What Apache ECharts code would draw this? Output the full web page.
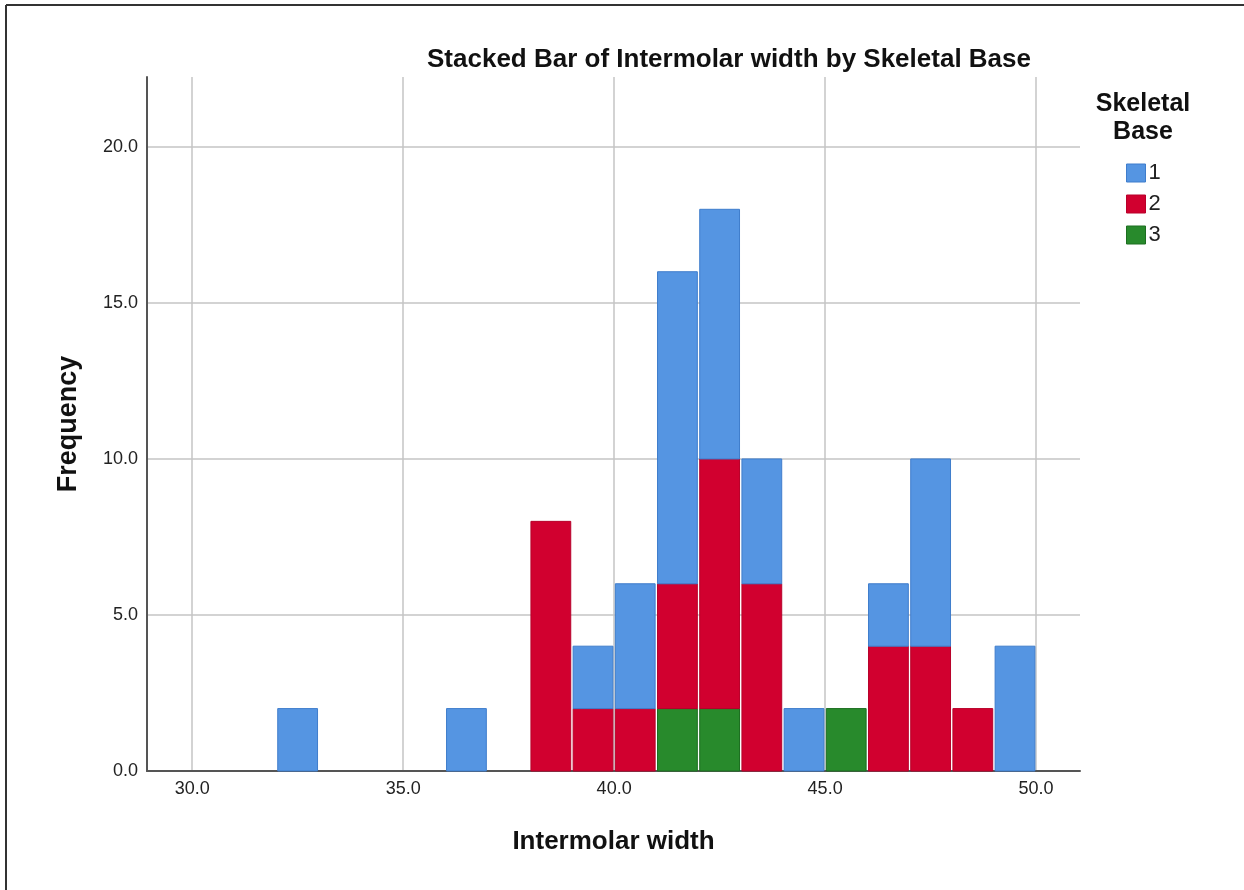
<!DOCTYPE html>
<html>
<head>
    <meta charset="UTF-8">
    <script src="https://cdn.jsdelivr.net/npm/echarts@6/dist/echarts.min.js"></script>
    <title>Stacked Bar of Intermolar width by Skeletal Base</title>
    <style>
        body { margin: 0; background: #fff; }
    </style>
</head>
<body>
    <div id="main" style="width:1244px;height:890px;"></div>
    <script type="text/javascript">
        // bin centres (1 mm bins, 32-50)
        var binCentres = [32.5, 33.5, 34.5, 35.5, 36.5, 37.5, 38.5, 39.5, 40.5,
                          41.5, 42.5, 43.5, 44.5, 45.5, 46.5, 47.5, 48.5, 49.5];
        // frequencies per skeletal base
        var base1 = [2, 0, 0, 0, 2, 0, 0, 2, 4, 10, 8, 4, 2, 0, 2, 6, 0, 4];
        var base2 = [0, 0, 0, 0, 0, 0, 8, 2, 2, 4, 8, 6, 0, 0, 4, 4, 2, 0];
        var base3 = [0, 0, 0, 0, 0, 0, 0, 0, 0, 2, 2, 0, 0, 2, 0, 0, 0, 0];
        var xTicks = [30, 35, 40, 45, 50];
        var yTicks = [0, 5, 10, 15, 20];

        var colors = { '1': '#5595e2', '2': '#d1002f', '3': '#288a2c' };
        var borders = { '1': '#3f7dcc', '2': '#b8002a', '3': '#1c6e20' };
        var FONT = 'Liberation Sans, Arial, sans-serif';

        // stack order from the bottom: 3, 2, 1
        var stackOrder = [['3', base3], ['2', base2], ['1', base1]];
        var running = binCentres.map(function () { return 0; });

        function renderBin(params, api) {
            var x = api.value(0), y0 = api.value(1), y1 = api.value(2);
            var p0 = api.coord([x - 0.5, y1]);
            var p1 = api.coord([x + 0.5, y0]);
            var inset = 1.2;
            return {
                type: 'rect',
                shape: { x: p0[0] + inset, y: p0[1], width: p1[0] - p0[0] - 2 * inset, height: p1[1] - p0[1] },
                style: api.style({ stroke: borders[params.seriesName], lineWidth: 1 })
            };
        }

        var series = stackOrder.map(function (s) {
            var name = s[0], vals = s[1], data = [];
            vals.forEach(function (v, i) {
                if (v > 0) {
                    data.push([binCentres[i], running[i], running[i] + v]);
                    running[i] += v;
                }
            });
            return {
                name: name,
                type: 'custom',
                renderItem: renderBin,
                encode: { x: 0, y: [1, 2] },
                itemStyle: { color: colors[name] },
                data: data
            };
        });

        var myChart = echarts.init(document.getElementById('main'));
        var fmt = function (v) { return Number(v).toFixed(1); };

        var option = {
            animation: false,
            color: [colors['1'], colors['2'], colors['3']],
            textStyle: { fontFamily: FONT },
            title: {
                text: 'Stacked Bar of Intermolar width by Skeletal Base',
                left: 422,
                top: 42,
                textStyle: { fontSize: 26, fontWeight: 'bold', color: '#111', fontFamily: FONT }
            },
            legend: {
                data: [
                    { name: '1', itemStyle: { color: colors['1'], borderColor: borders['1'], borderWidth: 1 } },
                    { name: '2', itemStyle: { color: colors['2'], borderColor: borders['2'], borderWidth: 1 } },
                    { name: '3', itemStyle: { color: colors['3'], borderColor: borders['3'], borderWidth: 1 } }
                ],
                orient: 'vertical',
                left: 1121,
                top: 157,
                itemWidth: 19,
                itemHeight: 18,
                itemGap: 9,
                icon: 'rect',
                textStyle: { fontSize: 22, color: '#222', padding: [0, 0, 0, -2] }
            },
            grid: { left: 147, top: 77, right: 164, bottom: 119 },
            xAxis: {
                type: 'value',
                min: 28.93,
                max: 51.04,
                name: 'Intermolar width',
                nameLocation: 'middle',
                nameGap: 58,
                nameTextStyle: { fontSize: 26, fontWeight: 'bold', color: '#111' },
                axisLine: { show: true, onZero: false, lineStyle: { color: '#555', width: 2 } },
                axisTick: { show: false, customValues: xTicks },
                axisLabel: { customValues: xTicks, formatter: fmt, fontSize: 18, color: '#222', margin: 9 },
                splitLine: { show: true, lineStyle: { color: '#c4c4c4', width: 1.5 } }
            },
            yAxis: {
                type: 'value',
                min: 0,
                max: 22.24,
                name: 'Frequency',
                nameLocation: 'middle',
                nameGap: 65,
                nameTextStyle: { fontSize: 27, fontWeight: 'bold', color: '#111' },
                axisLine: { show: true, lineStyle: { color: '#555', width: 2 } },
                axisTick: { show: false, customValues: yTicks },
                axisLabel: { customValues: yTicks, formatter: fmt, fontSize: 18, color: '#222', margin: 9 },
                splitLine: { show: true, lineStyle: { color: '#c4c4c4', width: 1.5 } }
            },
            series: series,
            graphic: [
                { type: 'line', shape: { x1: 6, y1: 5, x2: 1244, y2: 5 }, style: { stroke: '#333', lineWidth: 2 } },
                { type: 'line', shape: { x1: 6, y1: 5, x2: 6, y2: 890 }, style: { stroke: '#333', lineWidth: 2 } },
                {
                    type: 'text', x: 1143, y: 90,
                    style: {
                        text: 'Skeletal\nBase', fill: '#111', align: 'center',
                        font: 'bold 25px Liberation Sans, Arial, sans-serif', lineHeight: 28
                    }
                }
            ]
        };

        myChart.setOption(option);
    </script>
</body>
</html>
